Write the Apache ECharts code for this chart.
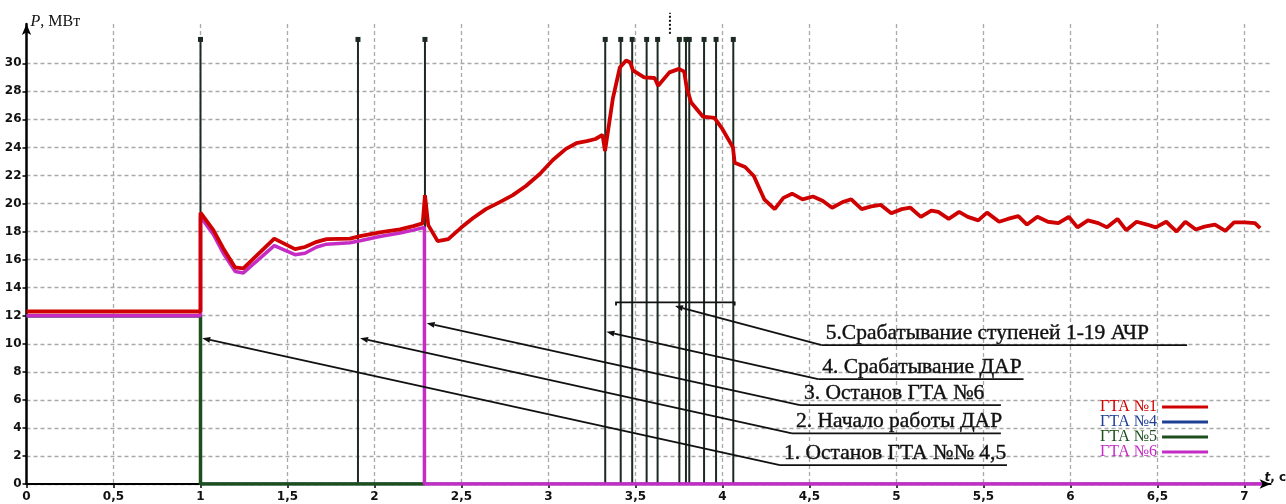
<!DOCTYPE html>
<html>
<head>
<meta charset="utf-8">
<script src="https://cdn.jsdelivr.net/npm/echarts@6/dist/echarts.min.js"></script>
<style>
  html, body { margin: 0; padding: 0; background: #fff; }
  #chart { width: 1286px; height: 504px; }
</style>
</head>
<body>
<div id="chart"></div>
<script>
// Active power of the gas-turbine units (МВт) versus time (с)
const gta1T = [0, 1.0, 1.0, 1.074, 1.131, 1.198, 1.246, 1.424, 1.543, 1.6, 1.668, 1.725, 1.859, 1.917, 2.03, 2.146, 2.223, 2.277, 2.29, 2.309, 2.363, 2.424, 2.482,
  2.50, 2.565, 2.64, 2.72, 2.795, 2.87, 2.95, 3.025, 3.10, 3.16, 3.22, 3.27, 3.31, 3.325, 3.37, 3.41, 3.446, 3.47, 3.485, 3.55, 3.61, 3.63, 3.695, 3.75, 3.78, 3.795,
  3.82, 3.887, 3.954, 4.0, 4.06, 4.07, 4.13, 4.18, 4.24, 4.30, 4.35, 4.40, 4.46, 4.52, 4.575, 4.63, 4.69, 4.74, 4.80, 4.855, 4.91, 4.97, 5.03, 5.08, 5.14, 5.2, 5.24,
  5.30, 5.36, 5.41, 5.47, 5.52, 5.59, 5.64, 5.70, 5.75, 5.81, 5.87, 5.93, 5.99, 6.04, 6.10, 6.16, 6.21, 6.27, 6.32, 6.38, 6.44, 6.49, 6.55, 6.61, 6.66, 6.72, 6.77,
  6.83, 6.89, 6.94, 7.0, 7.06, 7.09];
const gta1P = [12.3, 12.3, 19.35, 18.1, 16.8, 15.45, 15.37, 17.5, 16.75, 16.9, 17.27, 17.46, 17.5, 17.67, 17.94, 18.15, 18.39, 18.58, 20.6, 18.46, 17.32, 17.46, 18.1,
  18.3, 18.95, 19.6, 20.1, 20.6, 21.25, 22.1, 23.1, 23.9, 24.3, 24.45, 24.6, 24.9, 23.75, 27.5, 29.7, 30.2, 30.05, 29.5, 29.0, 28.95, 28.4, 29.35, 29.6, 29.4, 28.2,
  27.2, 26.2, 26.1, 25.3, 24.0, 22.9, 22.6, 21.96, 20.3, 19.6, 20.4, 20.7, 20.3, 20.5, 20.2, 19.7, 20.1, 20.3, 19.6, 19.8, 19.9, 19.3, 19.6, 19.7, 19.05, 19.5, 19.4,
  18.9, 19.4, 19.05, 18.8, 19.35, 18.7, 18.9, 19.1, 18.5, 19.05, 18.7, 18.6, 19.05, 18.3, 18.8, 18.6, 18.3, 18.9, 18.1, 18.7, 18.5, 18.3, 18.7, 18.0, 18.7, 18.15, 18.35,
  18.5, 18.05, 18.65, 18.65, 18.6, 18.25];

const gta6T = [0, 1.0, 1.0, 1.074, 1.131, 1.2, 1.246, 1.424, 1.543, 1.6, 1.668, 1.725, 1.859, 1.917, 2.03, 2.146, 2.223, 2.287, 2.287, 7.1];
const gta6P = [12.0, 12.0, 19.05, 17.8, 16.45, 15.15, 15.05, 17.0, 16.35, 16.45, 16.9, 17.1, 17.2, 17.35, 17.65, 17.9, 18.1, 18.3, 0, 0];

const gta4T = [0, 1.0, 1.0, 7.1];
const gta4P = [12.0, 12.0, 0, 0];
const gta5T = [0, 1.0, 1.0, 2.29];
const gta5P = [12.0, 12.0, 0, 0];

const seriesNames = ['ГТА №1', 'ГТА №4', 'ГТА №5', 'ГТА №6'];
const seriesColors = ['#cf0000', '#1f3f95', '#1c4f1c', '#c42cc4'];

const xTicks = [0, 0.5, 1, 1.5, 2, 2.5, 3, 3.5, 4, 4.5, 5, 5.5, 6, 6.5, 7];
const yTicks = [0, 2, 4, 6, 8, 10, 12, 14, 16, 18, 20, 22, 24, 26, 28, 30];

// Switching events: vertical markers from 0 up to eventTop
const eventT = [1.0, 1.905, 2.29, 3.326, 3.415, 3.481, 3.564, 3.627, 3.752, 3.79, 3.809, 3.894, 3.963, 4.062];
const eventTop = 31.7;
const cursorT = 3.698;
const cursorRange = [32.1, 33.6];

// Bracket spanning the АЧР stage operations
const bracketT = [3.388, 4.07];
const bracketP = 12.95;

// Callouts: arrow tip, elbow (start of underline), end of underline
const calloutText = [
  '1. Останов ГТА №№ 4,5',
  '2. Начало работы ДАР',
  '3. Останов ГТА №6',
  '4. Срабатывание ДАР',
  '5.Срабатывание ступеней 1-19 АЧР'
];
const calloutTip = [[1.01, 10.4], [1.917, 10.4], [2.30, 11.47], [3.333, 10.85], [3.727, 12.69]];
const calloutElbow = [[4.33, 1.35], [4.399, 3.61], [4.445, 5.63], [4.55, 7.48], [4.57, 9.9]];
const calloutEndT = [5.635, 5.6, 5.6, 5.73, 6.67];

const zip = (t, p) => t.map((v, i) => [v, p[i]]);
const fmtComma = v => String(v).replace('.', ',');

const ink = '#1d2a22';
const tickFont = { fontFamily: 'DejaVu Sans', fontWeight: 'bold', fontSize: 12, color: '#111' };

const chart = echarts.init(document.getElementById('chart'), null, { renderer: 'canvas' });

const lineSeries = (name, t, p, width) => ({
  name,
  type: 'line',
  data: zip(t, p),
  showSymbol: false,
  symbol: 'none',
  silent: true,
  color: seriesColors[seriesNames.indexOf(name)],
  lineStyle: { width, color: seriesColors[seriesNames.indexOf(name)] },
  z: 3
});

chart.setOption({
  animation: false,
  backgroundColor: '#ffffff',
  grid: { left: 26.5, right: 15.4, top: 24, bottom: 20, containLabel: false, outerBoundsMode: 'none' },
  legend: {
    data: seriesNames.map((n, i) => ({ name: n, textStyle: { color: seriesColors[i] } })),
    orient: 'vertical',
    left: 1095,
    top: 394,
    align: 'right',
    icon: 'rect',
    itemWidth: 46,
    itemHeight: 3,
    itemGap: -1,
    selectedMode: false,
    textStyle: { fontFamily: 'Liberation Serif', fontSize: 16, lineHeight: 14, padding: [0, 0, 0, 0] }
  },
  xAxis: {
    type: 'value',
    min: 0,
    max: 7.15,
    name: '{i|t}, с',
    nameLocation: 'end',
    nameGap: -6,
    nameTextStyle: {
      fontFamily: 'DejaVu Sans', fontWeight: 'bold', fontSize: 12, color: '#111',
      align: 'left', verticalAlign: 'bottom', padding: [0, 0, 0, 0],
      rich: { i: { fontFamily: 'DejaVu Sans', fontWeight: 'bold', fontStyle: 'italic', fontSize: 12, color: '#111' } }
    },
    axisLine: { show: true, onZero: true, symbol: ['none', 'arrow'], symbolSize: [7, 11], lineStyle: { color: '#000', width: 2 } },
    axisTick: { show: true, customValues: xTicks, length: 4, lineStyle: { color: '#000', width: 1.5 } },
    axisLabel: Object.assign({ customValues: xTicks, formatter: fmtComma, margin: 7 }, tickFont),
    splitLine: { show: true, lineStyle: { color: '#a9a9a9', width: 1.3, type: [4, 3] } }
  },
  yAxis: {
    type: 'value',
    min: 0,
    max: 32.8,
    name: '{i|P}, МВт',
    nameLocation: 'end',
    nameGap: 2,
    nameTextStyle: {
      fontFamily: 'Liberation Serif', fontSize: 16, color: '#111',
      align: 'left', verticalAlign: 'middle', padding: [0, 0, 0, 4],
      rich: { i: { fontFamily: 'Liberation Serif', fontStyle: 'italic', fontSize: 16, color: '#111' } }
    },
    axisLine: { show: true, symbol: ['none', 'arrow'], symbolSize: [7, 11], lineStyle: { color: '#000', width: 2.5 } },
    axisTick: { show: true, customValues: yTicks, length: 4, lineStyle: { color: '#000', width: 1.5 } },
    axisLabel: Object.assign({ customValues: yTicks, margin: 5 }, tickFont),
    splitLine: { show: true, lineStyle: { color: '#a9a9a9', width: 1.3, type: [4, 3] } }
  },
  series: [
    // switching events
    {
      name: 'events',
      type: 'custom',
      silent: true,
      clip: false,
      z: 1,
      data: eventT.map(t => [t, eventTop]),
      encode: { x: 0, y: 1 },
      renderItem: (params, api) => {
        const top = api.coord([api.value(0), api.value(1)]);
        const bot = api.coord([api.value(0), 0]);
        return {
          type: 'group',
          children: [
            { type: 'line', shape: { x1: bot[0], y1: bot[1], x2: top[0], y2: top[1] }, style: { stroke: ink, lineWidth: 2 } },
            { type: 'rect', shape: { x: top[0] - 2.5, y: top[1] - 2.5, width: 5, height: 5 }, style: { fill: ink } }
          ]
        };
      }
    },
    {
      name: 'cursor',
      type: 'custom',
      silent: true,
      clip: false,
      z: 1,
      data: [[cursorT, cursorRange[0], cursorRange[1]]],
      encode: { x: 0, y: [1, 2] },
      renderItem: (params, api) => {
        const a = api.coord([api.value(0), api.value(1)]);
        const b = api.coord([api.value(0), api.value(2)]);
        return { type: 'line', shape: { x1: a[0], y1: a[1], x2: b[0], y2: b[1] }, style: { stroke: '#111', lineWidth: 2, lineDash: [2, 2] } };
      }
    },
    lineSeries('ГТА №4', gta4T, gta4P, 3),
    lineSeries('ГТА №5', gta5T, gta5P, 3.5),
    lineSeries('ГТА №6', gta6T, gta6P, 3.5),
    lineSeries('ГТА №1', gta1T, gta1P, 3.8),
    // АЧР bracket
    {
      name: 'bracket',
      type: 'custom',
      silent: true,
      clip: false,
      z: 6,
      data: [[bracketT[0], bracketT[1], bracketP]],
      encode: { x: [0, 1], y: 2 },
      renderItem: (params, api) => {
        const a = api.coord([api.value(0), api.value(2)]);
        const b = api.coord([api.value(1), api.value(2)]);
        return {
          type: 'polyline',
          shape: { points: [[a[0], a[1] + 3], a, b, [b[0], b[1] + 3]] },
          style: { stroke: '#111', lineWidth: 1.8, fill: null }
        };
      }
    },
    // callouts with leaders and underlines
    {
      name: 'callouts',
      type: 'custom',
      silent: true,
      clip: false,
      z: 7,
      data: calloutElbow.map(p => [p[0], p[1]]),
      encode: { x: 0, y: 1 },
      renderItem: (params, api) => {
        const i = params.dataIndex;
        const tip = api.coord(calloutTip[i]);
        const elb = api.coord([api.value(0), api.value(1)]);
        const end = api.coord([calloutEndT[i], api.value(1)]);
        const dx = tip[0] - elb[0], dy = tip[1] - elb[1];
        const len = Math.hypot(dx, dy), ux = dx / len, uy = dy / len;
        const L = 8, W = 3;
        const bx = tip[0] - ux * L, by = tip[1] - uy * L;
        return {
          type: 'group',
          children: [
            { type: 'line', shape: { x1: bx, y1: by, x2: elb[0], y2: elb[1] }, style: { stroke: '#111', lineWidth: 1.8 } },
            { type: 'polygon', shape: { points: [tip, [bx - uy * W, by + ux * W], [bx + uy * W, by - ux * W]] }, style: { fill: '#111' } },
            { type: 'line', shape: { x1: elb[0], y1: elb[1], x2: end[0], y2: end[1] }, style: { stroke: '#111', lineWidth: 1.8 } },
            {
              type: 'text',
              x: elb[0] + 4,
              y: elb[1] - 1,
              style: {
                text: calloutText[i],
                font: '21.5px "Liberation Serif"',
                fill: '#111',
                stroke: '#111',
                lineWidth: 0.4,
                align: 'left',
                verticalAlign: 'bottom'
              }
            }
          ]
        };
      }
    }
  ]
});
</script>
</body>
</html>
